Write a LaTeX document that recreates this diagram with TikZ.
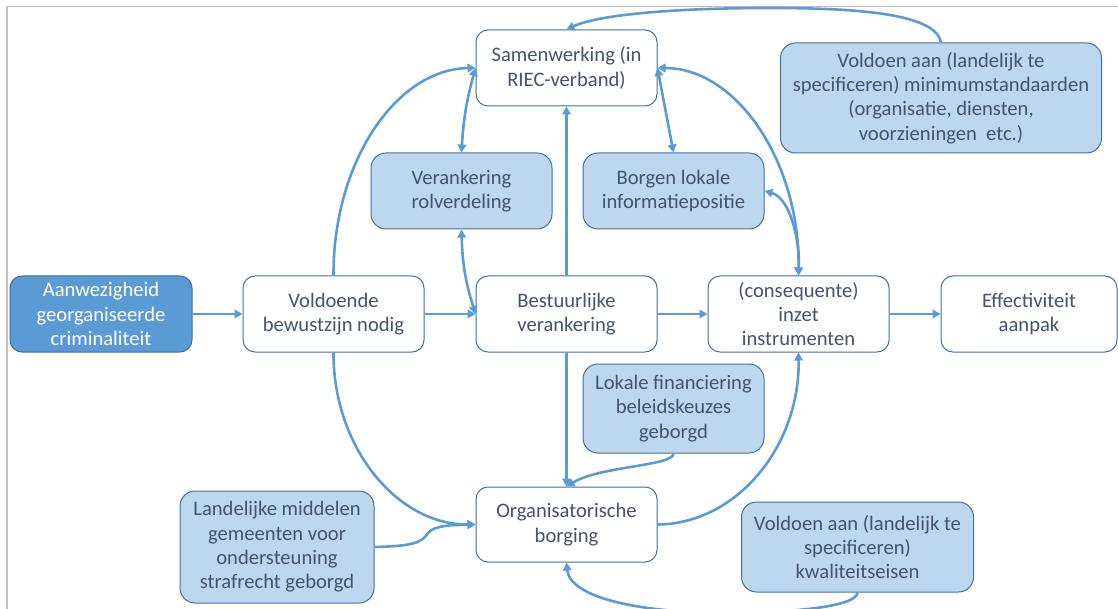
\documentclass[tikz,border=0pt]{standalone}
\usepackage{fontspec}
\setmainfont{Carlito}
\usetikzlibrary{arrows.meta,calc}
\definecolor{bordc}{HTML}{41719C}
\definecolor{lightc}{HTML}{BDD7EE}
\definecolor{darkc}{HTML}{5B9BD5}
\definecolor{linec}{HTML}{5B9BD5}
\definecolor{txtc}{HTML}{44546A}
\definecolor{framec}{HTML}{BFBFBF}
\tikzset{
  basebox/.style={rectangle, rounded corners=12pt, draw=bordc, line width=1pt, align=center, text=txtc,
    font=\fontsize{20.6}{24.4}\selectfont, inner sep=0pt},
  wbox/.style={basebox, fill=white},
  lbox/.style={basebox, fill=lightc, rounded corners=15pt},
  dbox/.style={basebox, fill=darkc, text=white},
  conn/.style={draw=linec, line width=2.6pt, -{Triangle[length=8pt,width=8.5pt]}},
  conn2/.style={draw=linec, line width=2.6pt, {Triangle[length=8pt,width=8.5pt]}-{Triangle[length=8pt,width=8.5pt]}}
}
\begin{document}
\begin{tikzpicture}[x=1pt,y=-1pt]
\useasboundingbox (0,0) rectangle (1118,609);
\clip (0,0) rectangle (1118,609);
\draw[framec, line width=1.8pt] (7,612) -- (7,6.5) -- (1120,6.5);

% nodes
\node[dbox, minimum width=182pt, minimum height=76pt] (aan) at (101,314) {Aanwezigheid\\georganiseerde\\criminaliteit};
\node[wbox, minimum width=181pt, minimum height=76pt] (vol) at (333.5,314) {Voldoende\\bewustzijn nodig};
\node[wbox, minimum width=181pt, minimum height=76pt] (bes) at (566.5,314) {Bestuurlijke\\verankering};
\node[wbox, minimum width=181pt, minimum height=76pt] (con) at (798.5,314) {(consequente)\\inzet\\instrumenten};
\node[wbox, minimum width=176pt, minimum height=76pt] (eff) at (1029,314) {Effectiviteit\\aanpak};
\node[wbox, minimum width=181pt, minimum height=76pt] (sam) at (566.5,68) {Samenwerking (in\\RIEC-verband)};
\node[lbox, minimum width=181pt, minimum height=76pt] (ver) at (461.5,191) {Verankering\\rolverdeling};
\node[lbox, minimum width=181pt, minimum height=76pt] (bor) at (673.5,191) {Borgen lokale\\informatiepositie};
\node[lbox, minimum width=181pt, minimum height=89pt] (lok) at (673.5,408.5) {Lokale financiering\\beleidskeuzes\\geborgd};
\node[wbox, minimum width=181pt, minimum height=75pt] (org) at (566.5,524.5) {Organisatorische\\borging};
\node[lbox, minimum width=232pt, minimum height=90pt] (kwa) at (857.5,547) {Voldoen aan (landelijk te\\specificeren)\\kwaliteitseisen};
\node[lbox, minimum width=194pt, minimum height=112pt] (lan) at (277,547) {Landelijke middelen\\gemeenten voor\\ondersteuning\\strafrecht geborgd};
\node[lbox, minimum width=321pt, minimum height=110pt] (min) at (941,98) {Voldoen aan (landelijk te\\specificeren) minimumstandaarden\\(organisatie, diensten,\\voorzieningen\ \ etc.)};

% straight connectors
\draw[conn] (aan.east) -- (vol.west);
\draw[conn] (vol.east) -- (bes.west);
\draw[conn] (bes.east) -- (con.west);
\draw[conn] (con.east) -- (eff.west);
\draw[conn] (bes.north) -- (sam.south);
\draw[conn] (bes.south) -- (org.north);

% curved connectors
\draw[conn] (vol.north) .. controls (333,161) and (397,69) .. (sam.west);
\draw[conn] (vol.south) .. controls (333,447) and (397,525) .. (org.west);
\draw[conn2] (ver.north) to[bend left=6] (sam.west);
\draw[conn2] (ver.south) to[bend right=8] (bes.west);
\draw[conn2] (bor.north) -- (sam.east);
\draw[conn2] (sam.east) .. controls (736,68) and (800,161) .. (con.north);
\draw[conn2] (bor.east) .. controls (790,198) and (800,240) .. (con.north);
\draw[conn] (org.east) .. controls (736,524) and (800,447) .. (con.south);
\draw[conn] (lok.south) .. controls (673.5,466) and (600,466) .. (org.north);
\draw[conn] (lan.east) .. controls (412,546) and (422,543) .. (428,533)
  .. controls (434,525) and (455,525) .. (org.west);
\coordinate (kb) at (720,613);
\draw[conn] (kwa.south) .. controls (857,607) and (790,613) .. (kb)
  .. controls (640,612) and (570,598) .. (org.south);
\coordinate (mt) at (770,8);
\draw[conn] (min.north) .. controls (936,14) and (860,8) .. (mt)
  .. controls (680,8) and (600,14) .. (sam.north);
\end{tikzpicture}
\end{document}
